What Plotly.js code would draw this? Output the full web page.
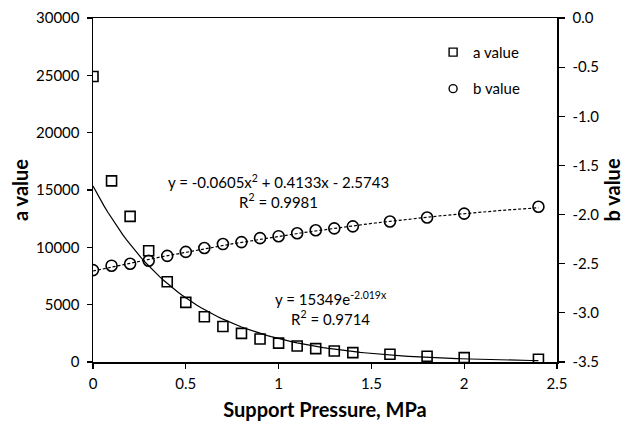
<!DOCTYPE html>
<html><head><meta charset="utf-8">
<script src="https://cdn.plot.ly/plotly-3.0.1.min.js"></script>
<style>body{margin:0;background:#fff}#c{width:624px;height:421px}</style>
</head><body><div id="c"></div>
<script>
var pressure = [0,0.1,0.2,0.3,0.4,0.5,0.6,0.7,0.8,0.9,1.0,1.1,1.2,1.3,1.4,1.6,1.8,2.0,2.4];
var aValues = [24900,15800,12700,9700,7000,5200,3950,3100,2500,2000,1650,1400,1170,960,820,670,500,380,240];
var bValues = [-2.565,-2.52,-2.50,-2.47,-2.42,-2.38,-2.34,-2.30,-2.28,-2.24,-2.22,-2.19,-2.16,-2.14,-2.12,-2.07,-2.03,-1.99,-1.92];
var expCoef = [15349, -2.019];
var quadCoef = [-0.0605, 0.4133, -2.5743];
var bTickVals = [0,-0.5,-1,-1.5,-2,-2.5,-3,-3.5];
var bTickText = ['0.0','-0.5','-1.0','-1.5','-2.0','-2.5','-3.0','-3.5'];

var fitX = [];
for (var i = 0; i <= 120; i++) fitX.push(i * 2.4 / 120);
var expY = fitX.map(function(x){return expCoef[0]*Math.exp(expCoef[1]*x);});
var quadY = fitX.map(function(x){return quadCoef[0]*x*x + quadCoef[1]*x + quadCoef[2];});

var F = 'Lato, "Open Sans", sans-serif';
var traces = [
  {x: fitX, y: expY, mode:'lines', line:{color:'#000', width:1.2}, showlegend:false, hoverinfo:'skip'},
  {x: fitX, y: quadY, yaxis:'y2', mode:'lines', line:{color:'#000', width:1.2, dash:'3px,2px'}, showlegend:false, hoverinfo:'skip'},
  {x: pressure, y: aValues, name:'a value', mode:'markers', showlegend:false,
   marker:{symbol:'square-open', size:10, color:'#000', line:{width:1.6, color:'#000'}}},
  {x: pressure, y: bValues, name:'b value', mode:'markers', yaxis:'y2', showlegend:false,
   marker:{symbol:'circle-open', size:11, color:'#000', line:{width:1.6, color:'#000'}}},
  {x:[null], y:[null], name:'a value', mode:'markers', legendgroup:'a',
   marker:{symbol:'square-open', size:8, color:'#000', line:{width:1.4, color:'#000'}}},
  {x:[null], y:[null], name:'b value', mode:'markers', legendgroup:'b', yaxis:'y2',
   marker:{symbol:'circle-open', size:8, color:'#000', line:{width:1.4, color:'#000'}}}
];

var layout = {
  width:624, height:421,
  margin:{l:93, r:67, t:18, b:59},
  paper_bgcolor:'#fff', plot_bgcolor:'#fff',
  font:{family:F, size:15, color:'#000'},
  showlegend:true,
  legend:{x:0.733, y:0.948, xanchor:'left', yanchor:'top', bgcolor:'rgba(0,0,0,0)',
          font:{family:F, size:15, color:'#000'}, itemwidth:30, tracegroupgap:14},
  xaxis:{range:[0,2.5], tickvals:[0,0.5,1,1.5,2,2.5], ticktext:['0','0.5','1','1.5','2','2.5'],
         showgrid:false, zeroline:false, showline:true, linecolor:'#000', linewidth:1.5,
         mirror:true, ticks:'outside', ticklen:5, tickcolor:'#000', tickwidth:1.2,
         tickfont:{family:F, size:15}, ticklabelstandoff:2,
         title:{text:'<b>Support Pressure, MPa</b>', font:{family:F, size:20}, standoff:12}},
  yaxis:{range:[0,30000], tickvals:[0,5000,10000,15000,20000,25000,30000],
         ticktext:['0','5000','10000','15000','20000','25000','30000'],
         showgrid:false, zeroline:false, showline:true, linecolor:'#000', linewidth:1.5,
         ticks:'outside', ticklen:5, tickcolor:'#000', tickwidth:1.2,
         tickfont:{family:F, size:15}, ticklabelstandoff:4,
         title:{text:'<b>a value</b>', font:{family:F, size:20}, standoff:2}},
  yaxis2:{range:[-3.5,0], overlaying:'y', side:'right', tickvals:bTickVals, ticktext:bTickText,
         showgrid:false, zeroline:false, showline:true, linecolor:'#000', linewidth:1.5,
         ticks:'outside', ticklen:6, tickcolor:'#000', tickwidth:1.2,
         tickfont:{family:F, size:15}, ticklabelstandoff:5,
         title:{text:'<b>b value</b>', font:{family:F, size:20}, standoff:8}},
  annotations:[
    {x:1.0, y:14900, xref:'x', yref:'y', showarrow:false, align:'center',
     text:'y = -0.0605x<sup>2</sup> + 0.4133x - 2.5743<br>R<sup>2</sup> = 0.9981', font:{family:F, size:15}},
    {x:1.28, y:4650, xref:'x', yref:'y', showarrow:false, align:'center',
     text:'y = 15349e<sup>-2.019x</sup><br>R<sup>2</sup> = 0.9714', font:{family:F, size:15}}
  ]
};
Plotly.newPlot('c', traces, layout, {displayModeBar:false, staticPlot:true});
</script></body></html>
